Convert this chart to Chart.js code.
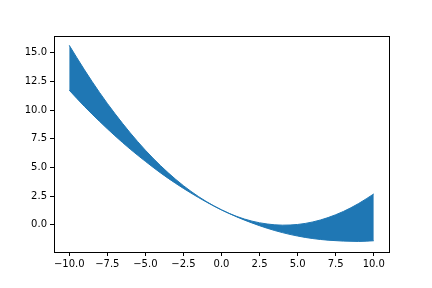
<!DOCTYPE html>
<html>
<head>
<meta charset="utf-8">
<script src="https://cdn.jsdelivr.net/npm/chart.js@4"></script>
<style>
  html, body { margin: 0; padding: 0; background: #fff; }
  #wrap { width: 432px; height: 288px; }
</style>
</head>
<body>
<div id="wrap"><canvas id="grafico"></canvas></div>
<script>
// --- datos ---
const xs = [-10, -9, -8, -7, -6, -5, -4, -3, -2, -1, 0, 1, 2, 3, 4, 5, 6, 7, 8, 9, 10];
const curvaSuperior = [15.64, 13.50, 11.51, 9.69, 8.02, 6.50, 5.15, 3.95, 2.91, 2.03, 1.30,
                       0.73, 0.32, 0.07, -0.03, 0.03, 0.25, 0.63, 1.16, 1.85, 2.69];
const curvaInferior = [11.73, 10.31, 9.00, 7.76, 6.60, 5.53, 4.52, 3.60, 2.76, 1.99, 1.30,
                       0.69, 0.16, -0.30, -0.68, -0.98, -1.20, -1.34, -1.42, -1.45, -1.39];
const xTicks = [-10, -7.5, -5, -2.5, 0, 2.5, 5, 7.5, 10];
const yTicks = [0, 2.5, 5, 7.5, 10, 12.5, 15];

const azul = '#1f77b4';
const fmt = v => (v < 0 ? '\u2212' : '') + Math.abs(v).toFixed(1);

// marco completo (spines arriba y derecha)
const marco = {
    id: 'marco',
    afterDraw(chart) {
        const { ctx, chartArea: a } = chart;
        ctx.save();
        ctx.strokeStyle = '#000';
        ctx.lineWidth = 1;
        ctx.strokeRect(Math.round(a.left) + 0.5, Math.round(a.top) + 0.5,
                       Math.round(a.right - a.left), Math.round(a.bottom - a.top));
        ctx.restore();
    }
};

const pares = arr => xs.map((x, i) => ({ x, y: arr[i] }));

new Chart(document.getElementById('grafico'), {
    type: 'line',
    data: {
        datasets: [
            { data: pares(curvaSuperior), borderColor: azul, backgroundColor: azul,
              borderWidth: 1, pointRadius: 0, fill: '+1', cubicInterpolationMode: 'monotone' },
            { data: pares(curvaInferior), borderColor: azul, backgroundColor: azul,
              borderWidth: 1, pointRadius: 0, fill: false, cubicInterpolationMode: 'monotone' }
        ]
    },
    options: {
        responsive: true,
        maintainAspectRatio: false,
        animation: false,
        layout: { padding: { left: 0, top: 36, right: 43, bottom: 0 } },
        plugins: { legend: { display: false }, tooltip: { enabled: false } },
        scales: {
            x: {
                type: 'linear', min: -11, max: 11,
                afterBuildTicks: s => { s.ticks = xTicks.map(v => ({ value: v })); },
                afterFit: s => { s.height = 36; },
                grid: { drawOnChartArea: false, drawTicks: true, tickLength: 4, color: '#000' },
                border: { display: true, color: '#000', width: 1 },
                ticks: { color: '#000', padding: 2, maxRotation: 0, autoSkip: false,
                         font: { family: 'DejaVu Sans', size: 10 }, callback: v => fmt(v) }
            },
            y: {
                type: 'linear', min: -2.37, max: 16.45,
                afterBuildTicks: s => { s.ticks = yTicks.map(v => ({ value: v })); },
                afterFit: s => { s.width = 54; },
                grid: { drawOnChartArea: false, drawTicks: true, tickLength: 4, color: '#000' },
                border: { display: true, color: '#000', width: 1 },
                ticks: { color: '#000', padding: 3, autoSkip: false,
                         font: { family: 'DejaVu Sans', size: 10 }, callback: v => fmt(v) }
            }
        }
    },
    plugins: [marco]
});
</script>
</body>
</html>
